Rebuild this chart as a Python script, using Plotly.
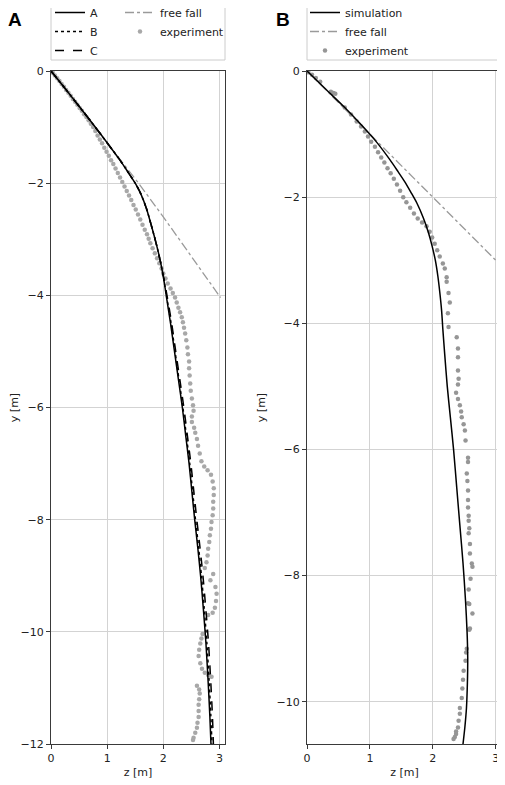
import plotly.graph_objects as go

# ---- panel A: simulated trajectories (z, y in m)
sim_y_a = [0, -0.31, -0.63, -0.95, -1.28, -1.55, -1.77, -2.0, -2.19, -2.45, -2.8, -3.1, -3.4, -3.72, -4.05,
           -4.5, -5.0, -5.5, -6.0, -6.5, -7.0, -7.5, -8.0, -8.5, -9.0, -9.6, -10.2, -10.9, -11.5, -12.0]
a_z = [0, 0.25, 0.5, 0.75, 1.0, 1.2, 1.35, 1.5, 1.6, 1.7, 1.8, 1.88, 1.95, 2.01, 2.06,
       2.13, 2.2, 2.27, 2.34, 2.4, 2.46, 2.51, 2.56, 2.615, 2.665, 2.715, 2.76, 2.8, 2.83, 2.85]
b_z = [0, 0.25, 0.5, 0.75, 1.0, 1.2, 1.35, 1.5, 1.6, 1.7, 1.8, 1.88, 1.95, 2.01, 2.065,
       2.14, 2.21, 2.28, 2.35, 2.412, 2.472, 2.523, 2.574, 2.63, 2.68, 2.731, 2.777, 2.818, 2.848, 2.868]
c_z = [0, 0.25, 0.5, 0.75, 1.0, 1.2, 1.35, 1.5, 1.6, 1.7, 1.8, 1.88, 1.95, 2.015, 2.075,
       2.15, 2.222, 2.295, 2.367, 2.43, 2.492, 2.545, 2.598, 2.655, 2.707, 2.759, 2.806, 2.847, 2.876, 2.893]

ff_a_z = [0, 1.0, 1.56, 2.0, 2.5, 3.02]
ff_a_y = [0, -1.27, -2.0, -2.6, -3.3, -4.04]

exp_a_z = [0.03, 0.07, 0.11, 0.15, 0.19, 0.23, 0.27, 0.31, 0.35, 0.39, 0.43, 0.47, 0.51, 0.55, 0.59,
           0.63, 0.67, 0.71, 0.75, 0.79, 0.83, 0.87, 0.91, 0.95, 0.99, 1.03, 1.07, 1.11, 1.15, 1.19,
           1.23, 1.27, 1.31, 1.35, 1.39, 1.43, 1.47, 1.51, 1.55, 1.59, 1.63, 1.67, 1.71, 1.74, 1.77,
           1.81, 1.85, 1.89, 1.93, 1.97, 2.0, 2.04, 2.08, 2.13, 2.17, 2.21, 2.24, 2.27, 2.3, 2.33,
           2.35, 2.37, 2.39, 2.41, 2.43, 2.44, 2.46, 2.46, 2.47, 2.48, 2.49, 2.51, 2.53, 2.54, 2.51,
           2.51, 2.55, 2.57, 2.6, 2.62, 2.65, 2.68, 2.73, 2.79, 2.85, 2.88, 2.9, 2.9, 2.89, 2.89,
           2.88, 2.86, 2.85, 2.83, 2.82, 2.8, 2.79, 2.77, 2.74, 2.89, 2.84, 2.93, 2.95, 2.94, 2.92,
           2.88, 2.8, 2.7, 2.68, 2.66, 2.64, 2.63, 2.66, 2.69, 2.74, 2.8, 2.86, 2.6, 2.64, 2.65,
           2.64, 2.63, 2.63, 2.63, 2.61, 2.6, 2.57, 2.54, 2.53]
exp_a_y = [-0.03, -0.08, -0.13, -0.18, -0.23, -0.28, -0.34, -0.39, -0.44, -0.5, -0.55, -0.6, -0.66, -0.71, -0.77,
           -0.82, -0.88, -0.94, -1.0, -1.07, -1.15, -1.22, -1.29, -1.37, -1.44, -1.51, -1.59, -1.66, -1.74, -1.82,
           -1.9, -1.98, -2.06, -2.14, -2.22, -2.3, -2.39, -2.47, -2.56, -2.65, -2.74, -2.83, -2.91, -2.99, -3.07,
           -3.16, -3.25, -3.34, -3.43, -3.52, -3.61, -3.7, -3.79, -3.88, -3.96, -4.04, -4.13, -4.22, -4.3, -4.39,
           -4.48, -4.58, -4.68, -4.8, -4.93, -5.05, -5.18, -5.3, -5.43, -5.57, -5.7, -5.84, -5.96, -6.06, -6.16,
           -6.26, -6.36, -6.45, -6.56, -6.68, -6.82, -6.96, -7.05, -7.12, -7.2, -7.32, -7.44, -7.56, -7.68, -7.8,
           -7.92, -8.04, -8.16, -8.28, -8.4, -8.52, -8.64, -8.76, -8.86, -8.97, -9.08, -9.2, -9.32, -9.45, -9.57,
           -9.66, -9.7, -10.04, -10.12, -10.21, -10.32, -10.43, -10.56, -10.66, -10.73, -10.77, -10.8, -10.96, -11.03, -11.1,
           -11.2, -11.3, -11.41, -11.52, -11.62, -11.71, -11.8, -11.89, -11.93]

# ---- panel B
sim_b_z = [0, 0.3, 0.6, 0.84, 1.1, 1.32, 1.45, 1.55, 1.65, 1.75, 1.85, 1.93, 1.99, 2.04, 2.08,
           2.11, 2.14, 2.16, 2.19, 2.23, 2.28, 2.33, 2.38, 2.43, 2.48, 2.52, 2.545, 2.555, 2.55, 2.535,
           2.51, 2.48]
sim_b_y = [0, -0.29, -0.58, -0.83, -1.12, -1.41, -1.6, -1.75, -1.92, -2.1, -2.33, -2.56, -2.78, -3.0, -3.25,
           -3.5, -3.8, -4.1, -4.5, -5.0, -5.5, -6.0, -6.6, -7.2, -7.8, -8.4, -8.9, -9.3, -9.7, -10.1,
           -10.4, -10.67]

ff_b_z = [0, 1.0, 2.0, 3.1]
ff_b_y = [0, -1.0, -2.0, -3.1]

exp_b_z = [0.02, 0.08, 0.14, 0.21, 0.38, 0.42, 0.45, 0.6, 0.7, 0.79, 0.86, 0.92, 0.97, 1.02, 1.08,
           1.13, 1.18, 1.23, 1.28, 1.33, 1.38, 1.43, 1.48, 1.53, 1.58, 1.64, 1.7, 1.76, 1.83, 1.9,
           1.95, 1.99, 2.03, 2.07, 2.11, 2.16, 2.19, 2.22, 2.22, 2.25, 2.27, 2.24, 2.25, 2.38, 2.4,
           2.4, 2.4, 2.41, 2.4, 2.37, 2.4, 2.43, 2.45, 2.46, 2.49, 2.51, 2.52, 2.56, 2.56, 2.54,
           2.55, 2.56, 2.56, 2.56, 2.57, 2.57, 2.58, 2.57, 2.59, 2.59, 2.62, 2.63, 2.6, 2.57, 2.56,
           2.58, 2.63, 2.59, 2.58, 2.54, 2.53, 2.52, 2.49, 2.48, 2.47, 2.46, 2.43, 2.43, 2.41, 2.4,
           2.37, 2.37, 2.35, 2.33]
exp_b_y = [-0.02, -0.06, -0.11, -0.17, -0.33, -0.35, -0.36, -0.58, -0.69, -0.8, -0.88, -0.96, -1.04, -1.12, -1.2,
           -1.29, -1.37, -1.45, -1.54, -1.62, -1.71, -1.8, -1.9, -2.0, -2.08, -2.17, -2.26, -2.34, -2.4, -2.46,
           -2.55, -2.64, -2.74, -2.84, -2.94, -3.05, -3.13, -3.27, -3.34, -3.52, -3.67, -3.84, -4.06, -4.22, -4.4,
           -4.54, -4.75, -4.88, -4.97, -5.1, -5.2, -5.3, -5.4, -5.49, -5.6, -5.7, -5.86, -6.13, -6.2, -6.38,
           -6.5, -6.65, -6.8, -6.92, -7.05, -7.13, -7.25, -7.33, -7.5, -7.65, -7.81, -7.86, -8.05, -8.22, -8.44,
           -8.45, -8.6, -8.84, -8.86, -9.16, -9.22, -9.35, -9.51, -9.65, -9.79, -9.94, -10.1, -10.19, -10.3, -10.41,
           -10.47, -10.51, -10.56, -10.59]

# the page body adds an 8px margin, so the figure is drawn 8px smaller and
# positions below are given in window pixels, then shifted
OFF = 8
FW, FH = 505 - OFF, 785 - OFF


def px(x):
    return (x - OFF) / FW


def py(y):
    return 1 - (y - OFF) / FH


txt = "#222222"
exp_a_col = "#a8a8a8"
exp_b_col = "#969696"
ff_col = "#9a9a9a"

fig = go.Figure()

# panel A
fig.add_trace(go.Scatter(x=exp_a_z, y=exp_a_y, mode="markers", name="experiment",
                         marker=dict(color=exp_a_col, size=4.5), xaxis="x", yaxis="y",
                         legend="legend2", legendrank=2))
fig.add_trace(go.Scatter(x=ff_a_z, y=ff_a_y, mode="lines", name="free fall",
                         line=dict(color=ff_col, width=1.3, dash="dashdot"), xaxis="x", yaxis="y",
                         legend="legend2", legendrank=1))
fig.add_trace(go.Scatter(x=c_z, y=sim_y_a, mode="lines", name="C",
                         line=dict(color="black", width=1.5, dash="dash", shape="spline", smoothing=0.8),
                         xaxis="x", yaxis="y", legend="legend", legendrank=3))
fig.add_trace(go.Scatter(x=b_z, y=sim_y_a, mode="lines", name="B",
                         line=dict(color="black", width=1.5, dash="dot", shape="spline", smoothing=0.8),
                         xaxis="x", yaxis="y", legend="legend", legendrank=2))
fig.add_trace(go.Scatter(x=a_z, y=sim_y_a, mode="lines", name="A",
                         line=dict(color="black", width=1.5, shape="spline", smoothing=0.8),
                         xaxis="x", yaxis="y", legend="legend", legendrank=1))

# panel B
fig.add_trace(go.Scatter(x=exp_b_z, y=exp_b_y, mode="markers", name="experiment",
                         marker=dict(color=exp_b_col, size=4.5), xaxis="x2", yaxis="y2",
                         legend="legend3", legendrank=3))
fig.add_trace(go.Scatter(x=ff_b_z, y=ff_b_y, mode="lines", name="free fall",
                         line=dict(color=ff_col, width=1.3, dash="dashdot"), xaxis="x2", yaxis="y2",
                         legend="legend3", legendrank=2))
fig.add_trace(go.Scatter(x=sim_b_z, y=sim_b_y, mode="lines", name="simulation",
                         line=dict(color="black", width=1.5, shape="spline", smoothing=0.8),
                         xaxis="x2", yaxis="y2", legend="legend3", legendrank=1))

ax_common = dict(showline=True, mirror=True, linecolor="#3a3a3a", linewidth=1,
                 showgrid=True, gridcolor="#d3d3d3", gridwidth=1, zeroline=False,
                 ticks="outside", ticklen=4, tickcolor="#3a3a3a", automargin=False,
                 tickfont=dict(size=11, color=txt))

y_dom = [py(744), py(71)]
leg_common = dict(bgcolor="rgba(0,0,0,0)", borderwidth=0, xanchor="left", yanchor="top",
                  font=dict(size=11, color=txt), traceorder="normal", itemwidth=30)
leg_top = py(-2)

fig.update_layout(
    width=FW, height=FH,
    margin=dict(l=0, r=0, t=0, b=0, autoexpand=False),
    paper_bgcolor="white", plot_bgcolor="white",
    font=dict(family="DejaVu Sans", size=11, color=txt),
    xaxis=dict(domain=[px(51), px(225)], range=[0, 3.1], anchor="y", tickvals=[0, 1, 2, 3],
               title=dict(text="z [m]", font=dict(size=11), standoff=4), **ax_common),
    yaxis=dict(domain=y_dom, range=[-12, 0], anchor="x", tickvals=[0, -2, -4, -6, -8, -10, -12],
               title=dict(text="y [m]", font=dict(size=11), standoff=8), **ax_common),
    xaxis2=dict(domain=[px(307), px(502)], range=[0, 3.1], anchor="y2", tickvals=[0, 1, 2, 3],
                title=dict(text="z [m]", font=dict(size=11), standoff=4), **ax_common),
    yaxis2=dict(domain=y_dom, range=[-10.67, 0], anchor="x2", tickvals=[0, -2, -4, -6, -8, -10],
                title=dict(text="y [m]", font=dict(size=11), standoff=8), **ax_common),
    legend=dict(x=px(50), y=leg_top, **leg_common),
    legend2=dict(x=px(120), y=leg_top, **leg_common),
    legend3=dict(x=px(305), y=leg_top, **leg_common),
    shapes=[
        dict(type="rect", xref="paper", yref="paper", x0=px(51), x1=px(225),
             y0=py(60), y1=py(3), line=dict(color="#cccccc", width=1)),
        dict(type="rect", xref="paper", yref="paper", x0=px(307), x1=px(500),
             y0=py(60), y1=py(3), line=dict(color="#cccccc", width=1)),
    ],
    annotations=[
        dict(text="<b>A</b>", x=px(15), y=py(19), xref="paper", yref="paper",
             xanchor="center", yanchor="middle",
             showarrow=False, font=dict(family="Liberation Sans", size=19, color="black")),
        dict(text="<b>B</b>", x=px(283), y=py(19), xref="paper", yref="paper",
             xanchor="center", yanchor="middle",
             showarrow=False, font=dict(family="Liberation Sans", size=19, color="black")),
    ],
)

fig.write_html("out.html")
